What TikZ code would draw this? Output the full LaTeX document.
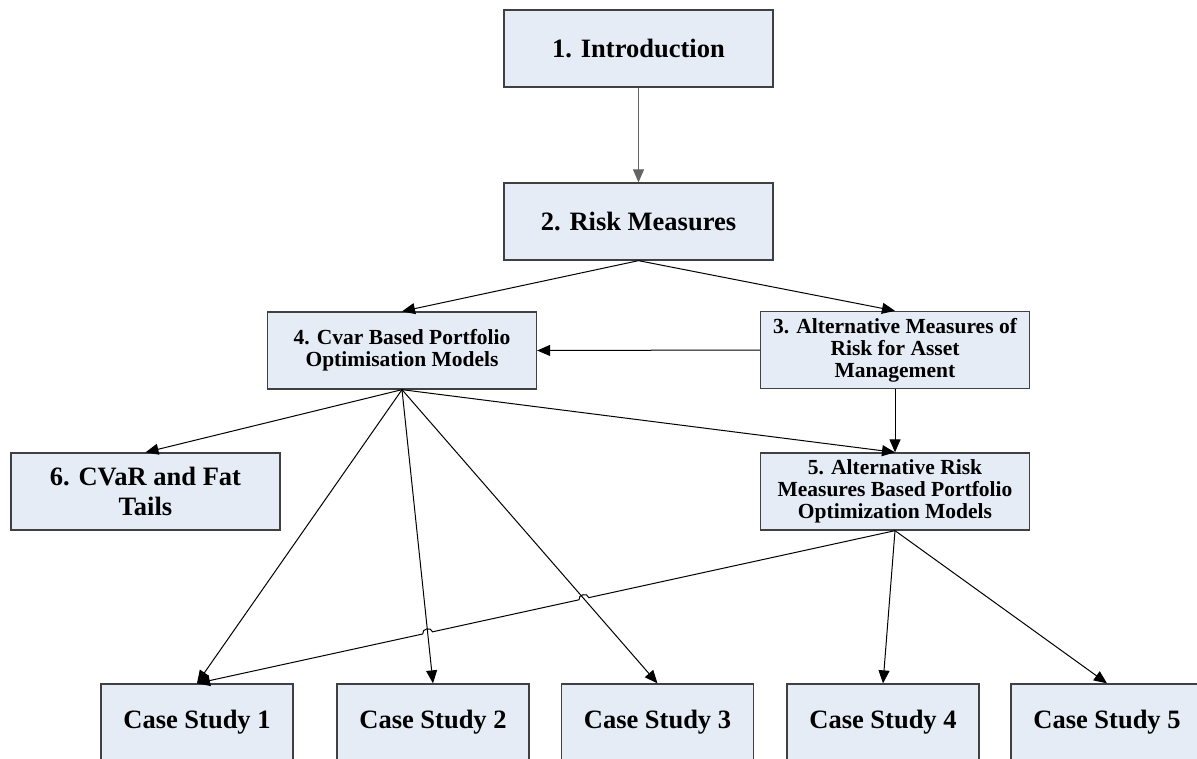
\documentclass[tikz,border=0pt]{standalone}
\usepackage{fontspec}
\setmainfont{Liberation Serif}
\usetikzlibrary{arrows.meta,calc}
\definecolor{boxfill}{RGB}{230,236,246}
\definecolor{boxline}{RGB}{64,64,64}
\definecolor{greyline}{RGB}{100,100,100}

\begin{document}
\begin{tikzpicture}[x=1pt,y=-1pt,
  box/.style={draw=boxline,line width=1.3pt,fill=boxfill,inner sep=0pt,align=center},
  bigbox/.style={box,minimum width=269pt,minimum height=77pt,
    font=\fontsize{26.5}{30}\selectfont\bfseries},
  smallbox/.style={box,minimum width=269pt,minimum height=77pt,
    font=\fontsize{21.5}{22}\selectfont\bfseries},
  casebox/.style={bigbox,minimum width=192pt},
  link/.style={line width=1pt,-{Triangle[length=13pt,width=11pt]}},
  hop/.style={bend right=90,looseness=1.4}]
 \clip (0,0) rectangle (1197,758);
 % chapters
 \node[bigbox] (intro) at (638.5,48.5) {1. Introduction};
 \node[bigbox] (risk) at (638.5,221.5) {2. Risk Measures};
 \node[smallbox] (cvar) at (402,350.5) {4. Cvar Based Portfolio\\Optimisation Models};
 \node[smallbox] (altm) at (895,350) {3. Alternative Measures of\\Risk for Asset\\Management};
 \node[bigbox] (fat) at (145.5,491.5) {6. CVaR and Fat\\Tails};
 \node[smallbox] (altr) at (895,491.5) {5. Alternative Risk\\Measures Based Portfolio\\Optimization Models};
 % case studies
 \node[casebox] (cs1) at (197,722.5) {Case Study 1};
 \node[casebox] (cs2) at (433,722.5) {Case Study 2};
 \node[casebox] (cs3) at (657.5,722.5) {Case Study 3};
 \node[casebox] (cs4) at (883,722.5) {Case Study 4};
 \node[casebox] (cs5) at (1107,722.5) {Case Study 5};
 % links
 \draw[link,draw=greyline] (intro) -- (risk);
 \draw[link] (risk.south) -- (cvar.north);
 \draw[link] (risk.south) -- (altm.north);
 \draw[link] (altm.west) -- (cvar.east);
 \draw[link] (altm.south) -- (altr.north);
 \draw[link] (cvar.south) -- (fat.north);
 \draw[link] (cvar.south) -- (altr.north);
 \draw[link] (cvar.south) -- (cs1.north);
 \draw[link] (cvar.south) -- (cs2.north);
 \draw[link] (cvar.south) -- (cs3.north);
 \draw[link] (altr.south)
   -- ($(altr.south)!0.4387!(cs1.north)$) to[hop] ($(altr.south)!0.4527!(cs1.north)$)
   -- ($(altr.south)!0.6626!(cs1.north)$) to[hop] ($(altr.south)!0.6766!(cs1.north)$)
   -- (cs1.north);
 \draw[link] (altr.south) -- (cs4.north);
 \draw[link] (altr.south) -- (cs5.north);
\end{tikzpicture}
\end{document}
